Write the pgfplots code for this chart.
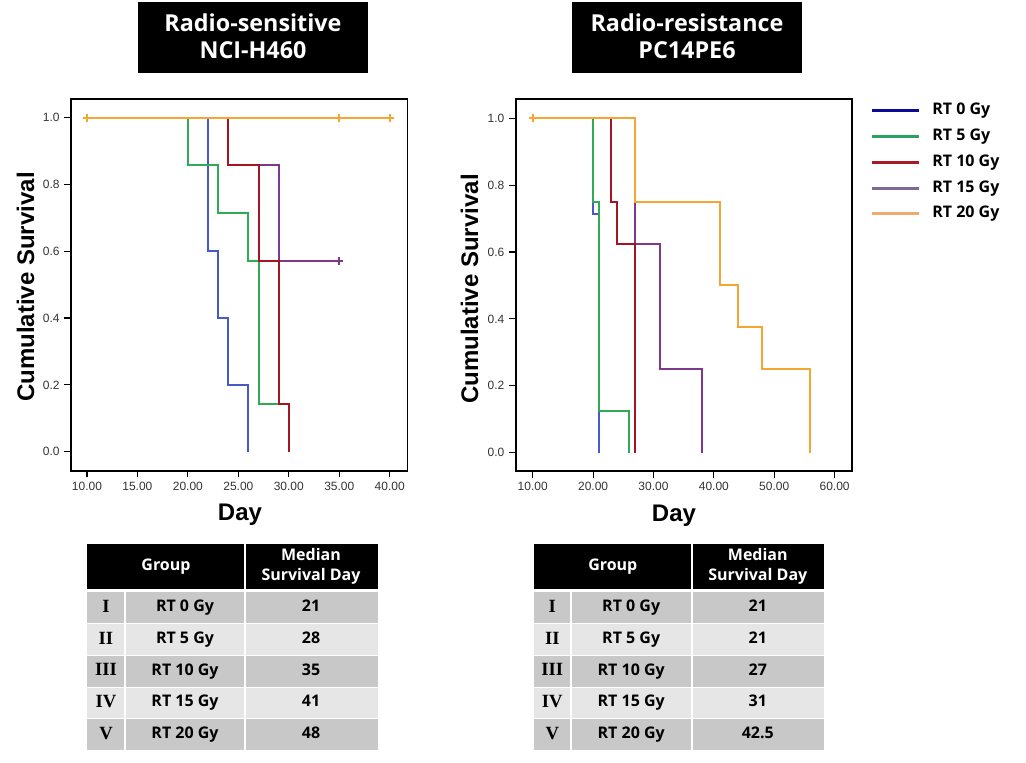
\documentclass[border=0pt]{standalone}
\usepackage{fontspec}
\setmainfont{Liberation Sans}
\newfontfamily\kfont{Open Sans}
\newfontfamily\rfont{Liberation Serif}
\usepackage{pgfplots}
\pgfplotsset{compat=1.18}

\definecolor{cBlue}{RGB}{70,90,205}
\definecolor{cGreen}{RGB}{50,170,85}
\definecolor{cRed}{RGB}{165,20,35}
\definecolor{cPurple}{RGB}{125,55,140}
\definecolor{cOrange}{RGB}{245,165,50}
\definecolor{lBlue}{RGB}{10,10,150}
\definecolor{lGreen}{RGB}{40,165,95}
\definecolor{lRed}{RGB}{170,25,35}
\definecolor{lPurple}{RGB}{125,105,150}
\definecolor{lOrange}{RGB}{240,170,110}
\definecolor{rowDark}{RGB}{200,200,200}
\definecolor{rowLight}{RGB}{230,230,230}

\pgfplotsset{
  km/.style={
    scale only axis, anchor=south west,
    width=252.3pt, height=278.8pt,
    ymin=-0.057, ymax=1.056,
    ytick={0,0.2,0.4,0.6,0.8,1.0},
    axis line style={line width=1.2pt},
    xtick pos=left, ytick pos=left,
    tick align=outside, major tick length=5pt,
    tick style={line width=0.9pt, black},
    tick label style={font=\fontsize{9}{10}\selectfont, text=black!80},
    /pgf/number format/assume math mode=true,
    xticklabel style={/pgf/number format/.cd, fixed, fixed zerofill, precision=2},
    yticklabel style={/pgf/number format/.cd, fixed, fixed zerofill, precision=1},
  },
  st/.style={const plot mark left, no markers, line width=1.5pt},
  cens/.style={only marks, mark=+, mark size=3pt, line width=1.7pt},
}

\begin{document}
\begin{tikzpicture}
\begin{scope}[x=0.75pt,y=0.75pt]
  % titles
  \fill[black] (138,761) rectangle (368,690);
  \node[text=white, align=center, font=\kfont\bfseries\fontsize{17.5}{20}\selectfont] at (253,726.5) {Radio-sensitive\\NCI-H460};
  \fill[black] (572,761) rectangle (802,690);
  \node[text=white, align=center, font=\kfont\bfseries\fontsize{17.5}{20}\selectfont] at (687,726.5) {Radio-resistance\\PC14PE6};
  % axis labels
  \node[rotate=90, anchor=base, font=\bfseries\fontsize{18}{20}\selectfont] at (34,476) {Cumulative Survival};
  \node[rotate=90, anchor=base, font=\bfseries\fontsize{18}{20}\selectfont] at (478,474) {Cumulative Survival};
  \node[anchor=base, font=\bfseries\fontsize{18}{20}\selectfont] at (240,242) {Day};
  \node[anchor=base, font=\bfseries\fontsize{18}{20}\selectfont] at (674,241) {Day};
  % left table
  \fill[black] (87.3,219) rectangle (377.7,174);
  \draw[white, line width=1.2pt] (245,219) -- (245,174);
  \node[text=white, font=\kfont\bfseries\fontsize{12}{14}\selectfont] at (166,196.5) {Group};
  \node[text=white, align=center, font=\kfont\bfseries\fontsize{12}{15}\selectfont] at (311,196.5) {Median\\Survival Day};
  \foreach \r/\g/\v [count=\i from 0] in {I/RT 0 Gy/21, II/RT 5 Gy/28, III/RT 10 Gy/35, IV/RT 15 Gy/41, V/RT 20 Gy/48} {
    \pgfmathsetmacro{\top}{763-592.5-31.7*\i}
    \pgfmathsetmacro{\bot}{\top-30.7}
    \pgfmathsetmacro{\mid}{\top-15.35}
    \pgfmathtruncatemacro{\odd}{mod(\i,2)}
    \ifnum\odd=0 \fill[rowDark] (87.3,\top) rectangle (377.7,\bot); \else \fill[rowLight] (87.3,\top) rectangle (377.7,\bot); \fi
    \draw[white, line width=1.2pt] (125,\top) -- (125,\bot) (245,\top) -- (245,\bot);
    \node[font=\rfont\bfseries\fontsize{14}{16}\selectfont, text height=9.5pt, text depth=2.5pt] at (106,\mid) {\r};
    \node[font=\kfont\bfseries\fontsize{12}{14}\selectfont, text height=8.5pt, text depth=2.5pt] at (185,\mid) {\g};
    \node[font=\kfont\bfseries\fontsize{12}{14}\selectfont, text height=8.5pt, text depth=2.5pt] at (311,\mid) {\v};
  }
  % right table
  \fill[black] (534,219) rectangle (824,174);
  \draw[white, line width=1.2pt] (691.7,219) -- (691.7,174);
  \node[text=white, font=\kfont\bfseries\fontsize{12}{14}\selectfont] at (612.8,196.5) {Group};
  \node[text=white, align=center, font=\kfont\bfseries\fontsize{12}{15}\selectfont] at (757.8,196.5) {Median\\Survival Day};
  \foreach \r/\g/\v [count=\i from 0] in {I/RT 0 Gy/21, II/RT 5 Gy/21, III/RT 10 Gy/27, IV/RT 15 Gy/31, V/RT 20 Gy/42.5} {
    \pgfmathsetmacro{\top}{763-592.5-31.7*\i}
    \pgfmathsetmacro{\bot}{\top-30.7}
    \pgfmathsetmacro{\mid}{\top-15.35}
    \pgfmathtruncatemacro{\odd}{mod(\i,2)}
    \ifnum\odd=0 \fill[rowDark] (534,\top) rectangle (824,\bot); \else \fill[rowLight] (534,\top) rectangle (824,\bot); \fi
    \draw[white, line width=1.2pt] (570.7,\top) -- (570.7,\bot) (691.7,\top) -- (691.7,\bot);
    \node[font=\rfont\bfseries\fontsize{14}{16}\selectfont, text height=9.5pt, text depth=2.5pt] at (552.3,\mid) {\r};
    \node[font=\kfont\bfseries\fontsize{12}{14}\selectfont, text height=8.5pt, text depth=2.5pt] at (631.2,\mid) {\g};
    \node[font=\kfont\bfseries\fontsize{12}{14}\selectfont, text height=8.5pt, text depth=2.5pt] at (757.8,\mid) {\v};
  }
\end{scope}

% Left: NCI-H460
\begin{axis}[km, at={(53.25pt,219.2pt)},
  xmin=8.42, xmax=41.75, xtick={10,15,20,25,30,35,40}]
  \addplot[cBlue, st] coordinates {(10,1)(22,0.6)(23,0.4)(24,0.2)(26,0)};
  \addplot[cGreen, st] coordinates {(10,1)(20,0.857)(23,0.714)(26,0.571)(27,0.143)(29,0.143)};
  \addplot[cPurple, st] coordinates {(10,1)(24,0.857)(29,0.571)(35,0.571)};
  \addplot[cRed, st] coordinates {(10,1)(24,0.857)(27,0.571)(29,0.143)(30,0)};
  \addplot[cPurple, cens] coordinates {(35,0.571)};
  \addplot[cOrange, st] coordinates {(10,1)(40,1)};
  \addplot[cOrange, cens] coordinates {(10,1)(35,1)(40,1)};
\end{axis}

% Right: PC14PE6
\begin{axis}[km, at={(386.8pt,219pt)},
  xmin=7.18, xmax=62.9, xtick={10,20,30,40,50,60},
  ymin=-0.055, ymax=1.057,
  legend image code/.code={\draw[#1] (0pt,0pt) -- (35pt,0pt);},
  legend style={at={(1.0426,0.998)}, anchor=north west, draw=none, fill=none,
    font=\kfont\bfseries\fontsize{12}{14}\selectfont,
    nodes={inner sep=0pt, text height=9pt, text depth=3pt},
    row sep=7.3pt, /tikz/every odd column/.append style={column sep=9pt}},
  legend cell align=left]
  \addplot[cBlue, st, forget plot] coordinates {(10,1)(20,0.714)(21,0)};
  \addplot[cGreen, st, forget plot] coordinates {(10,1)(20,0.75)(21,0.125)(26,0)};
  \addplot[cPurple, st, forget plot] coordinates {(10,1)(27,0.625)(31,0.25)(38,0)};
  \addplot[cRed, st, forget plot] coordinates {(10,1)(23,0.75)(24,0.625)(27,0)};
  \addplot[cOrange, st, forget plot] coordinates {(10,1)(27,0.75)(41,0.5)(44,0.375)(48,0.25)(56,0)};
  \addplot[cOrange, cens, forget plot] coordinates {(10,1)};
  \addlegendimage{lBlue, line width=2.2pt}
  \addlegendentry{RT 0 Gy}
  \addlegendimage{lGreen, line width=2.2pt}
  \addlegendentry{RT 5 Gy}
  \addlegendimage{lRed, line width=2.2pt}
  \addlegendentry{RT 10 Gy}
  \addlegendimage{lPurple, line width=2.2pt}
  \addlegendentry{RT 15 Gy}
  \addlegendimage{lOrange, line width=2.2pt}
  \addlegendentry{RT 20 Gy}
\end{axis}
\pgfresetboundingbox
\path[use as bounding box] (0,0) rectangle (769.5pt,572.25pt);
\end{tikzpicture}
\end{document}
